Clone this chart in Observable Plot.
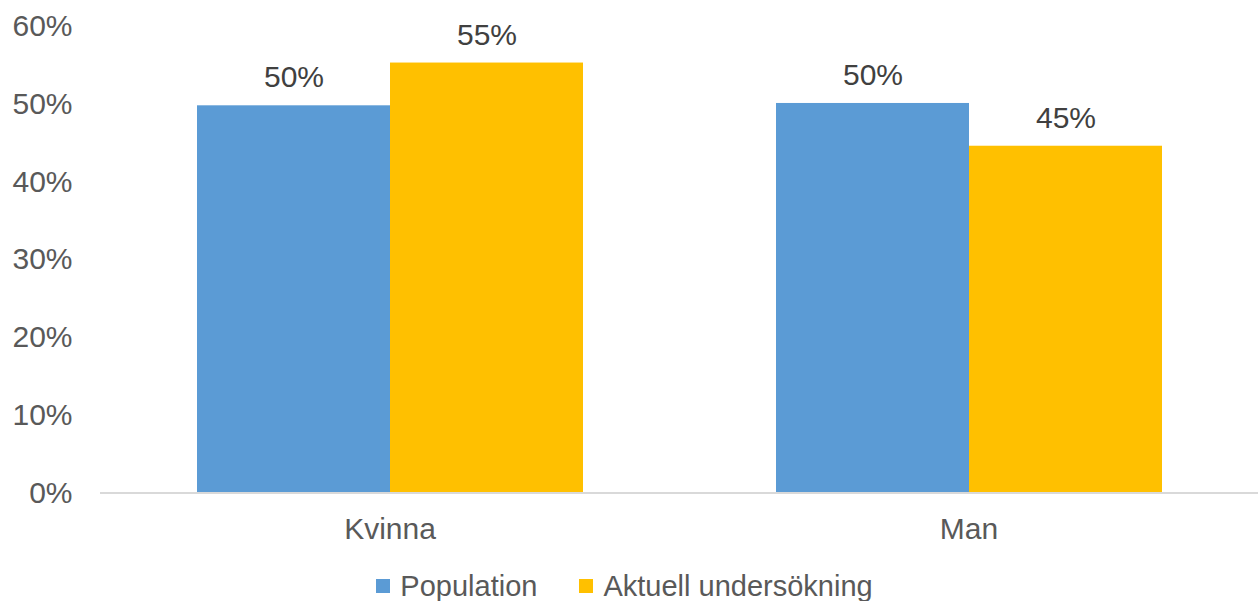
<!DOCTYPE html>
<html>
<head>
<meta charset="utf-8">
<script src="https://cdn.jsdelivr.net/npm/d3@7"></script>
<script src="https://cdn.jsdelivr.net/npm/@observablehq/plot@0.6"></script>
<style>
  html, body { margin: 0; padding: 0; background: #fff; }
  body { width: 1258px; height: 601px; overflow: hidden; font-family: "Liberation Sans", Arial, sans-serif; }
  #legend { display: flex; justify-content: center; align-items: center; height: 46px; margin-top: 8px; font-size: 29px; color: #595959; padding-right: 9px; }
  .item { display: flex; align-items: center; margin: 0 21px; }
  .sw { width: 14px; height: 14px; margin-right: 10px; }
</style>
</head>
<body>
<div id="chart"></div>
<div id="legend"></div>
<script>
const categories = ["Kvinna", "Man"];
const seriesNames = ["Population", "Aktuell undersökning"];
const population = [0.498, 0.501];
const aktuell = [0.553, 0.446];
const colors = ["#5B9BD5", "#FFC000"];
const yTicks = [0, 0.1, 0.2, 0.3, 0.4, 0.5, 0.6];

const data = [];
categories.forEach((c, i) => {
  data.push({cat: c, series: seriesNames[0], value: population[i]});
  data.push({cat: c, series: seriesNames[1], value: aktuell[i]});
});

const fmt = d3.format(".0%");

const plot = Plot.plot({
  width: 1258,
  height: 555,
  marginTop: 26,
  marginBottom: 62.5,
  marginLeft: 100,
  marginRight: 0,
  style: {fontFamily: "Liberation Sans, Arial, sans-serif", fontSize: "30px", color: "#595959", background: "#fff"},
  fx: {domain: categories, padding: 0, label: null, axis: "bottom", tickSize: 0, tickPadding: 25},
  x: {domain: seriesNames, paddingInner: 0, paddingOuter: 0.5, axis: null},
  y: {domain: [0, 0.6], ticks: yTicks, tickFormat: fmt, tickSize: 0, tickPadding: 28, label: null},
  color: {domain: seriesNames, range: colors},
  marks: [
    Plot.barY(data, {fx: "cat", x: "series", y: "value", fill: "series"}),
    Plot.ruleY([0], {stroke: "#D9D9D9", strokeWidth: 2}),
    Plot.text(data, {fx: "cat", x: "series", y: "value", text: d => fmt(d.value), dy: -28, lineAnchor: "middle", fill: "#404040", fontSize: 30})
  ]
});
document.getElementById("chart").appendChild(plot);

const legend = document.getElementById("legend");
seriesNames.forEach((s, i) => {
  const item = document.createElement("div");
  item.className = "item";
  const sw = document.createElement("div");
  sw.className = "sw";
  sw.style.background = colors[i];
  const t = document.createElement("span");
  t.textContent = s;
  item.appendChild(sw);
  item.appendChild(t);
  legend.appendChild(item);
});
</script>
</body>
</html>
